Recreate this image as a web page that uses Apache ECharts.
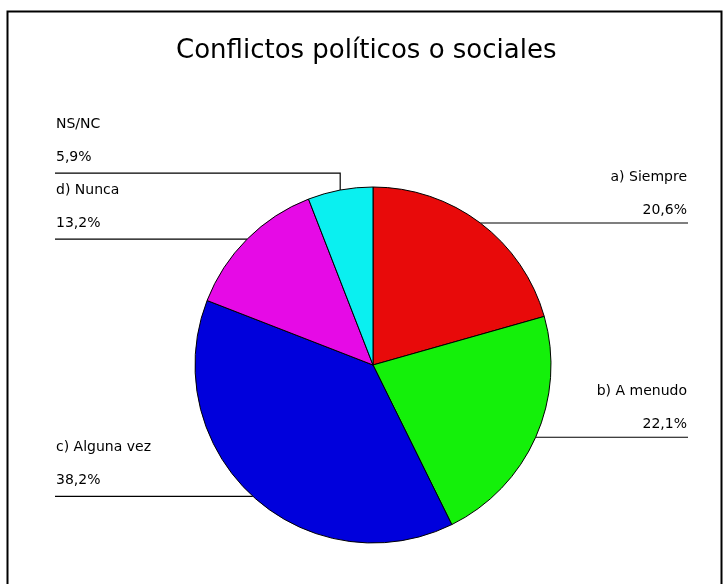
<!DOCTYPE html>
<html>
<head>
<meta charset="utf-8">
<script src="https://cdn.jsdelivr.net/npm/echarts@6/dist/echarts.min.js"></script>
<style>
  html, body { margin: 0; padding: 0; background: #fff; }
  #chart { width: 725px; height: 584px; }
</style>
</head>
<body>
<div id="chart"></div>
<script>
const titleText = 'Conflictos políticos o sociales';
const categories = ['a) Siempre', 'b) A menudo', 'c) Alguna vez', 'd) Nunca', 'NS/NC'];
const values = [20.6, 22.1, 38.2, 13.2, 5.9];
const colors = ['#E80A0A', '#14F00A', '#0000DC', '#E60AE6', '#0AF0F0'];

// How each leader line is routed: the side its label sits on, and how far
// the line climbs from the slice edge before turning horizontal.
const routes = [
  { side: 'right', rise: 0 },
  { side: 'right', rise: 0 },
  { side: 'left', rise: 0 },
  { side: 'left', rise: 0 },
  { side: 'left', rise: 17 }
];
const LEFT_X = 55;
const RIGHT_X = 688;

function pctText(v) {
  return v.toFixed(1).replace('.', ',') + '%';
}

const chart = echarts.init(document.getElementById('chart'), null, { renderer: 'canvas' });

chart.setOption({
  backgroundColor: '#fff',
  animation: false,
  title: {
    text: titleText,
    left: 171,
    top: 33,
    textStyle: {
      fontFamily: 'DejaVu Sans',
      fontSize: 26,
      fontWeight: 'normal',
      color: '#000'
    }
  },
  graphic: [
    {
      type: 'rect',
      silent: true,
      shape: { x: 7.5, y: 11.5, width: 714, height: 600 },
      style: { fill: 'none', stroke: '#000', lineWidth: 2 }
    }
  ],
  series: [
    {
      type: 'pie',
      center: [373, 365],
      radius: 178,
      startAngle: 90,
      clockwise: true,
      avoidLabelOverlap: false,
      silent: true,
      data: categories.map((name, i) => ({
        name: name,
        value: values[i],
        itemStyle: { color: colors[i] }
      })),
      itemStyle: { borderColor: '#000', borderWidth: 1 },
      label: {
        show: true,
        position: 'outside',
        formatter: p => p.name + '\n' + pctText(p.value),
        fontFamily: 'DejaVu Sans',
        fontSize: 14,
        lineHeight: 33,
        color: '#000'
      },
      labelLine: {
        show: true,
        length: 0,
        length2: 0,
        lineStyle: { color: '#000', width: 1.2 }
      },
      labelLayout: function (params) {
        const route = routes[params.dataIndex];
        const edge = params.labelLinePoints[0];
        const turnY = edge[1] - route.rise;
        const right = route.side === 'right';
        const endX = right ? RIGHT_X : LEFT_X;
        return {
          x: right ? RIGHT_X - 1 : LEFT_X + 1,
          y: turnY + (right ? 4 : 1),
          align: right ? 'right' : 'left',
          verticalAlign: 'bottom',
          labelLinePoints: [edge, [edge[0], turnY], [endX, turnY]]
        };
      }
    }
  ]
});
</script>
</body>
</html>
